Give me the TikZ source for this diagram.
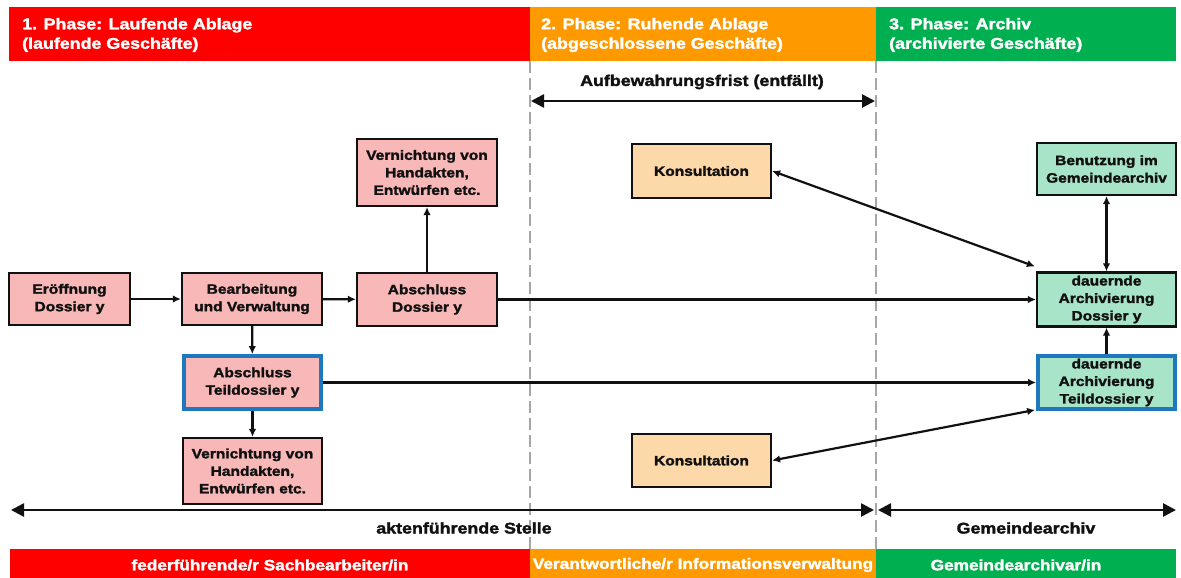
\documentclass[tikz,border=0pt]{standalone}
\usepackage{fontspec}
\setmainfont{Liberation Sans}[FakeStretch=1.15, BoldFeatures={FakeBold=2}]
\usetikzlibrary{arrows.meta,calc}
\definecolor{pred}{HTML}{FF0000}
\definecolor{porange}{HTML}{FF9900}
\definecolor{pgreen}{HTML}{00B050}
\definecolor{boxpink}{HTML}{F8B8B8}
\definecolor{boxorange}{HTML}{FDD8A8}
\definecolor{boxgreen}{HTML}{A8E4C8}
\definecolor{bblue}{HTML}{1F77C0}
\definecolor{dgray}{HTML}{A6A6A6}
\definecolor{ink}{HTML}{111111}
\tikzset{
  box/.style={draw=ink, line width=2.2pt, minimum width=140pt, minimum height=53pt, inner sep=0pt, align=center, text=ink, font=\fontsize{13.5}{17.5}\selectfont\bfseries},
  pinkbox/.style={box, fill=boxpink},
  orbox/.style={box, fill=boxorange},
  grbox/.style={box, fill=boxgreen},
  bluebord/.style={draw=bblue, line width=3.8pt},
  conn/.style={draw=ink, line width=2.2pt, -{Latex[length=8pt,width=7.5pt]}},
  dconn/.style={draw=ink, line width=2.2pt, {Latex[length=8pt,width=7.5pt]}-{Latex[length=8pt,width=7.5pt]}},
  bigarr/.style={draw=ink, line width=2.6pt, {Triangle[length=13pt,width=13pt]}-{Triangle[length=13pt,width=13pt]}},
  headtxt/.style={text=white, anchor=west, inner sep=0pt, align=left, font=\fontsize{15.5}{19.5}\selectfont\bfseries},
  bartxt/.style={text=white, inner sep=0pt, font=\fontsize{15}{18}\selectfont\bfseries},
  lbltxt/.style={text=ink, inner sep=0pt, font=\fontsize{15.5}{19}\selectfont\bfseries},
  phaseline/.style={draw=dgray, line width=1.8pt, dash pattern=on 12pt off 5pt}
}
\begin{document}
\begin{tikzpicture}[x=1pt,y=-1pt]
\useasboundingbox (0,0) rectangle (1181,578);
\fill[white] (0,0) rectangle (1181,578);
% top bars
\fill[pred] (9,7) rectangle (530,61);
\fill[porange] (530,7) rectangle (876,61);
\fill[pgreen] (876,7) rectangle (1176,61);
\node[headtxt] (h1) at (22,35) {1. Phase: Laufende Ablage\\(laufende Geschäfte)};
\node[headtxt] (h2) at (541,35) {2. Phase: Ruhende Ablage\\(abgeschlossene Geschäfte)};
\node[headtxt] (h3) at (889,35) {3. Phase: Archiv\\(archivierte Geschäfte)};
% bottom bars
\fill[pred] (10,549) rectangle (530,578);
\fill[porange] (530,549) rectangle (876,578);
\fill[pgreen] (876,549) rectangle (1176,578);
\node[bartxt] (f1) at (270,565) {federführende/r Sachbearbeiter/in};
\node[bartxt] (f2) at (703,565) {Verantwortliche/r Informationsverwaltung};
\node[bartxt] (f3) at (1016,565) {Gemeindearchivar/in};
% dashed phase separators
\draw[phaseline] (530,61) -- (530,549);
\draw[phaseline] (876,61) -- (876,549);
% top span arrow
\coordinate (fa) at (531,101);
\coordinate (fb) at (875,101);
\draw[bigarr] (fa) -- (fb);
\node[lbltxt] (fl) at (702,82) {Aufbewahrungsfrist (entfällt)};
% bottom span arrows
\coordinate (la) at (11,510);
\coordinate (lb) at (874,510);
\coordinate (ra) at (878,510);
\coordinate (rb) at (1176,510);
\draw[bigarr] (la) -- (lb);
\draw[bigarr] (ra) -- (rb);
\node[lbltxt] (ll) at (464,528) {aktenführende Stelle};
\node[lbltxt] (rl) at (1026,528) {Gemeindearchiv};
% boxes
\node[pinkbox, minimum width=121pt, minimum height=52pt] (e1) at (69.5,299) {Eröffnung\\Dossier y};
\node[pinkbox, minimum height=52pt] (b1) at (252,299) {Bearbeitung\\und Verwaltung};
\node[pinkbox] (a1) at (427,299.5) {Abschluss\\Dossier y};
\node[pinkbox, minimum height=67pt] (v1) at (427,172.5) {Vernichtung von\\Handakten,\\Entwürfen etc.};
\node[pinkbox, bluebord, minimum width=137pt, minimum height=53pt] (t1) at (252.5,382.5) {Abschluss\\Teildossier y};
\node[pinkbox, minimum width=139pt, minimum height=66pt] (v2) at (252.5,471) {Vernichtung von\\Handakten,\\Entwürfen etc.};
\node[orbox, minimum width=139pt, minimum height=54pt] (k1) at (701.5,171) {Konsultation};
\node[orbox, minimum width=139pt, minimum height=53pt] (k2) at (701.5,460.5) {Konsultation};
\node[grbox, minimum width=139pt, minimum height=52pt] (g1) at (1106.5,169) {Benutzung im\\Gemeindearchiv};
\node[grbox, minimum width=139pt, minimum height=54pt] (ad) at (1106.5,299.5) {dauernde\\Archivierung\\Dossier y};
\node[grbox, bluebord, minimum width=137pt, minimum height=53pt] (at) at (1106.5,382.5) {dauernde\\Archivierung\\Teildossier y};
% connectors
\draw[conn] (e1) -- (b1);
\draw[conn] (b1) -- (a1);
\draw[conn] (a1) -- (v1);
\draw[conn] (b1) -- (t1);
\draw[conn] (t1) -- (v2);
\draw[conn] (a1.east) -- (ad.west);
\draw[conn] (t1.east) -- (at.west);
\draw[conn] (at) -- (ad);
\draw[dconn] (g1) -- (ad);
\draw[dconn] (k1.east) -- ($(ad.north west)+(-1,-5)$);
\draw[dconn] (k2.east) -- ($(at.south west)+(-1,-1)$);
\end{tikzpicture}
\end{document}
